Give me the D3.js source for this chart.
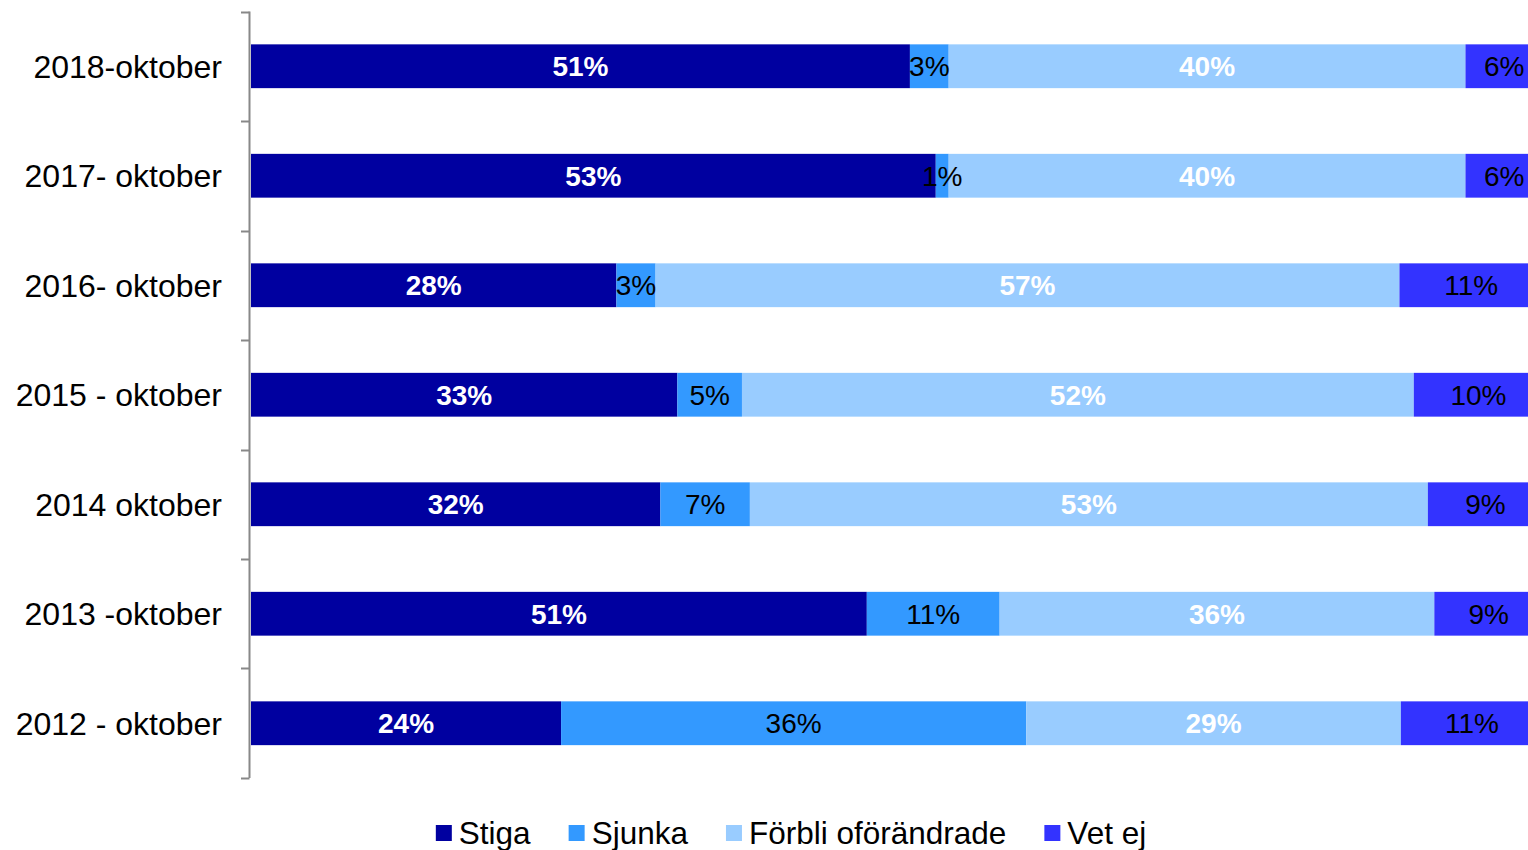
<!DOCTYPE html>
<html>
<head>
<meta charset="utf-8">
<script src="https://cdnjs.cloudflare.com/ajax/libs/d3/7.8.5/d3.min.js"></script>
<style>
  body { margin: 0; background: #fff; }
  svg { display: block; font-family: "Liberation Sans", Arial, sans-serif; }
</style>
</head>
<body>
<div id="chart"></div>
<script>
// data
var categories = ["2018-oktober", "2017- oktober", "2016- oktober", "2015 - oktober", "2014 oktober", "2013 -oktober", "2012 - oktober"];
var seriesNames = ["Stiga", "Sjunka", "Förbli oförändrade", "Vet ej"];
var stiga   = [51, 53, 28, 33, 32, 51, 24];
var sjunka  = [3, 1, 3, 5, 7, 11, 36];
var forbli  = [40, 40, 57, 52, 53, 36, 29];
var vetEj   = [6, 6, 11, 10, 9, 9, 11];
var colors = ["#0000a0", "#3399ff", "#99ccff", "#3333ff"];

var width = 1528, height = 850;
var margin = {top: 11.5, left: 250, bottom: 72};

var svg = d3.select("#chart").append("svg")
    .attr("width", width)
    .attr("height", height);

// tabell: rad per kategori
var rows = categories.map(function (c, i) {
    var vals = [stiga[i], sjunka[i], forbli[i], vetEj[i]];
    var total = d3.sum(vals);
    var acc = 0;
    return {
        cat: c,
        segs: vals.map(function (v, k) {
            var s = {k: k, v: v, x0: acc / total, x1: (acc + v) / total};
            acc += v;
            return s;
        })
    };
});

// plottytan går något utanför bilden till höger (som originalet)
var x = d3.scaleLinear().domain([0, 1]).range([margin.left + 1, 1543]);
var y = d3.scaleBand()
    .domain(categories)
    .range([margin.top, height - margin.bottom])
    .paddingInner(0.6)
    .paddingOuter(0.3);

// staplar
var g = svg.selectAll("g.row")
    .data(rows)
    .enter().append("g")
    .attr("class", "row");

g.selectAll("rect")
    .data(function (d) { return d.segs.map(function (s) { s.cat = d.cat; return s; }); })
    .enter().append("rect")
    .attr("x", function (d) { return x(d.x0); })
    .attr("y", function (d) { return y(d.cat); })
    .attr("width", function (d) { return x(d.x1) - x(d.x0); })
    .attr("height", y.bandwidth())
    .attr("fill", function (d) { return colors[d.k]; });

// etiketter
g.selectAll("text")
    .data(function (d) { return d.segs; })
    .enter().append("text")
    .attr("x", function (d) { return (x(d.x0) + x(d.x1)) / 2; })
    .attr("y", function (d) { return y(d.cat) + y.bandwidth() / 2; })
    .attr("dy", "0.36em")
    .attr("text-anchor", "middle")
    .attr("font-size", "28px")
    .attr("font-weight", function (d) { return (d.k === 0 || d.k === 2) ? "bold" : "normal"; })
    .attr("fill", function (d) { return (d.k === 0 || d.k === 2) ? "#fff" : "#000"; })
    .text(function (d) { return d.v + "%"; });

// y-axel
var yEdge = d3.scaleLinear().domain([0, categories.length]).range([margin.top, height - margin.bottom]);
var axis = svg.append("g");
axis.append("line")
    .attr("x1", 249.5).attr("x2", 249.5)
    .attr("y1", yEdge(0)).attr("y2", yEdge(categories.length))
    .attr("stroke", "#888").attr("stroke-width", 2);
axis.selectAll("line.tick")
    .data(d3.range(categories.length + 1))
    .enter().append("line")
    .attr("class", "tick")
    .attr("x1", 241).attr("x2", 249.5)
    .attr("y1", function (d) { return Math.round(yEdge(d)) + 0.5; })
    .attr("y2", function (d) { return Math.round(yEdge(d)) + 0.5; })
    .attr("stroke", "#888").attr("stroke-width", 2);

svg.selectAll("text.cat")
    .data(categories)
    .enter().append("text")
    .attr("class", "cat")
    .attr("x", 222)
    .attr("y", function (d) { return y(d) + y.bandwidth() / 2; })
    .attr("dy", "0.36em")
    .attr("text-anchor", "end")
    .attr("font-size", "32px")
    .attr("fill", "#000")
    .text(function (d) { return d; });

// legend
var legend = svg.append("g");
var items = legend.selectAll("g")
    .data(seriesNames)
    .enter().append("g");
items.append("rect")
    .attr("width", 16).attr("height", 16)
    .attr("y", 825)
    .attr("fill", function (d, i) { return colors[i]; });
items.append("text")
    .attr("x", 23)
    .attr("y", 844)
    .attr("font-size", "31.5px")
    .attr("fill", "#000")
    .text(function (d) { return d; });

var gap = 38, pos = [], cur = 0;
items.each(function () {
    pos.push(cur);
    cur += 23 + d3.select(this).select("text").node().getComputedTextLength() + gap;
});
var totalW = cur - gap;
var start = 791 - totalW / 2;
items.attr("transform", function (d, i) { return "translate(" + (start + pos[i]) + ",0)"; });
</script>
</body>
</html>
